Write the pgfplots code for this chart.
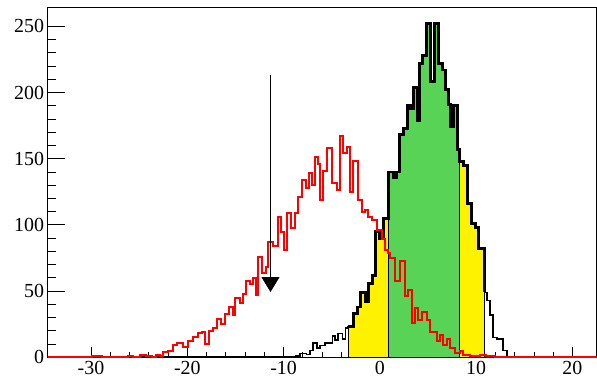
\documentclass[border=0pt]{standalone}
\usepackage{pgfplots}
\pgfplotsset{compat=1.18}
\usepackage{pgfplotstable}
\usepackage{fontspec}
\setmainfont{Liberation Serif}
\usetikzlibrary{arrows.meta}
\definecolor{hgreen}{RGB}{89,211,86}

\pgfplotstableread{
x y
-34.5 0
-29.93 1
-28.89 0
-26.13 1
-25.61 0
-24.88 2
-24.26 1
-23.64 0
-23.22 2
-22.81 1
-22.49 4
-21.97 5
-21.45 9
-21.04 11
-20.41 8
-19.90 12
-19.38 15
-18.86 18
-18.44 19
-18.13 10
-17.71 20
-17.30 22
-16.88 29
-16.47 25
-16.05 33
-15.64 38
-15.22 32
-15.01 45
-14.49 41
-14.18 48
-13.87 58
-13.46 55
-13.15 60
-12.83 47
-12.63 76
-12.21 64
-11.80 68
-11.59 87
-11.07 84
-10.55 106
-10.24 95
-9.93 81
-9.62 109
-9.20 98
-8.78 109
-8.47 121
-8.06 134
-7.64 128
-7.33 139
-7.02 130
-6.71 151
-6.40 146
-6.19 119
-5.88 141
-5.46 158
-4.94 132
-4.42 126
-4.11 167
-3.80 154
-3.38 159
-3.07 125
-2.76 148
-2.24 119
-1.83 110
-1.52 111
-1.21 106
-0.79 104
-0.27 96
0.25 89
0.56 81
0.87 79
1.08 75
1.60 58
2.12 73
2.64 46
2.95 51
3.36 26
3.68 37
3.99 28
4.40 34
4.92 28
5.23 19
5.96 12
6.27 17
6.58 9
7.00 14
7.31 7
7.83 3
8.35 5
8.66 2
9.39 1
10.43 2
11.05 1
11.98 0
22.5 0
}\redhist

\pgfplotstableread{
x y
-34.5 0
-8.78 1
-8.27 3
-7.64 2
-7.23 5
-6.92 11
-6.50 7
-6.19 9
-5.67 11
-4.94 16
-4.63 13
-4.32 18
-3.90 14
-3.59 22
-3.28 23
-2.76 33
-2.35 38
-2.04 49
-1.52 42
-1.21 56
-0.79 62
-0.48 95
-0.06 90
0.35 105
0.87 140
1.39 136
1.70 140
2.01 168
2.43 173
2.85 190
3.16 188
3.47 204
3.88 179
4.09 222
4.40 228
4.82 252
5.23 208
5.65 252
6.06 222
6.48 217
6.79 202
7.10 191
7.31 174
7.64 190
8.04 157
8.30 148
8.66 145
9.08 116
9.49 101
9.91 98
10.22 82
10.89 49
11.15 43
11.46 32
11.78 15
12.19 14
12.81 5
13.23 0
22.5 0
}\blackhist

\begin{document}
\begin{tikzpicture}
\begin{axis}[
  scale only axis,
  width=548.8bp, height=349.3bp,
  xmin=-34.5, xmax=22.5,
  ymin=0, ymax=263.8,
  axis line style={line width=1bp},
  tick pos=left,
  tick align=inside,
  xtick={-30,-20,-10,0,10,20},
  ytick={0,50,100,150,200,250},
  minor x tick num=4,
  minor y tick num=4,
  xtick style={black, line width=0.8bp, /pgfplots/major tick length=10bp, /pgfplots/minor tick length=5bp},
  ytick style={black, line width=0.8bp, /pgfplots/major tick length=17bp, /pgfplots/minor tick length=8bp},
  /pgf/number format/assume math mode=true,
  tick label style={font=\fontsize{20}{24}\selectfont, inner sep=3.5bp},
  xticklabel={\pgfmathprintnumber[assume math mode=true]{\tick}},
  yticklabel={\pgfmathprintnumber[assume math mode=true]{\tick}},
]
\addplot[const plot, fill=yellow, draw=black, line width=1.2bp, restrict x to domain=-3.3:10.9] table {\blackhist} \closedcycle;
\addplot[const plot, fill=hgreen, draw=black, line width=1.2bp, restrict x to domain=0.8:8.35] table {\blackhist} \closedcycle;
\addplot[const plot, black, line width=1.6bp] table {\blackhist};
\addplot[const plot, black, line width=2.8bp, restrict x to domain=-3.3:10.9] table {\blackhist};
\addplot[const plot, red, line width=2bp] table {\redhist};
\addplot[black, line width=1bp, -{Triangle[length=15bp,width=18bp]}] coordinates {(-11.36,213) (-11.36,49.3)};
\end{axis}
\path (current axis.south west) ++(-47.7bp,-22.7bp) coordinate (bbA);
\path (current axis.north east) ++(0.5bp,8bp) coordinate (bbB);
\path (bbA) rectangle (bbB);
\end{tikzpicture}
\end{document}
